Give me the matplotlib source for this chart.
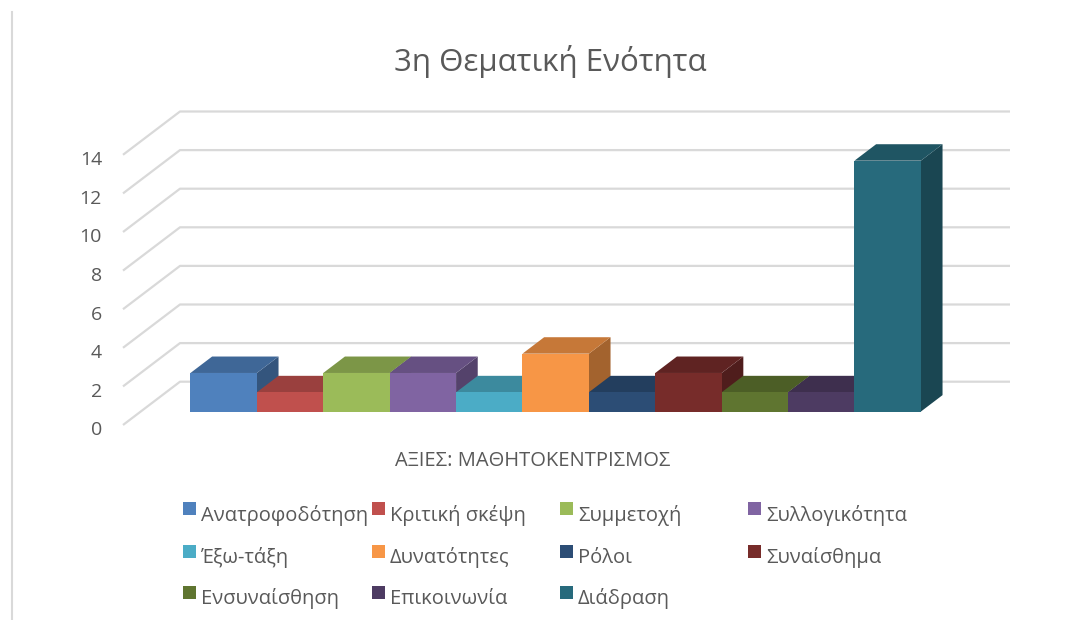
import matplotlib
matplotlib.use("Agg")
import matplotlib.pyplot as plt
from matplotlib.patches import Polygon, Rectangle
from matplotlib.lines import Line2D
from matplotlib import font_manager
from matplotlib.colors import to_rgb

# series of the single category "ΑΞΙΕΣ: ΜΑΘΗΤΟΚΕΝΤΡΙΣΜΟΣ"
labels = [
    "Ανατροφοδότηση", "Κριτική σκέψη", "Συμμετοχή", "Συλλογικότητα",
    "Έξω-τάξη", "Δυνατότητες", "Ρόλοι", "Συναίσθημα",
    "Ενσυναίσθηση", "Επικοινωνία", "Διάδραση",
]
values = [2, 1, 2, 2, 1, 3, 1, 2, 1, 1, 13]
colors = [
    "#4F81BD", "#C0504D", "#9BBB59", "#8064A2",
    "#4BACC6", "#F79646", "#2C4D75", "#772C2A",
    "#5F7530", "#4D3B62", "#276A7C",
]
yticks = [0, 2, 4, 6, 8, 10, 12, 14]
title = "3η Θεματική Ενότητα"
cat_title = "ΑΞΙΕΣ: ΜΑΘΗΤΟΚΕΝΤΡΙΣΜΟΣ"

# pick a font with Greek glyphs
installed = {f.name for f in font_manager.fontManager.ttflist}
family = [f for f in ["Open Sans", "Noto Sans"] if f in installed]
plt.rcParams["font.family"] = family + ["DejaVu Sans"]
TXT = "#595959"
GRID = "#D9D9D9"

W, H = 1080, 620
fig = plt.figure(figsize=(W / 100, H / 100), dpi=100)

# oblique 3D projection: one x unit = one bar width, one y unit = one value unit
PX_X, PX_Y = 66.4, 19.3          # pixels per unit
OX, OY = 123, 425                # pixel position of the front-left floor corner
DX, DY = 57 / PX_X, 43.3 / PX_Y  # full depth vector in data units
FLOOR_W = 12.5                   # floor width in bar widths
MARGIN = 0.75
D0, D1 = 0.31, 0.69              # depth slab occupied by the bars

ax = fig.add_axes([0, 0, 1, 1])
ax.set_xlim(-OX / PX_X, (W - OX) / PX_X)
ax.set_ylim((OY - H) / PX_Y, OY / PX_Y)
ax.axis("off")

# side wall diagonals + back wall gridlines
for v in yticks:
    ax.plot([0, DX, FLOOR_W + DX], [v, v + DY, v + DY],
            color=GRID, lw=1.6, zorder=1, solid_capstyle="butt")
    ax.text(-21 / PX_X, v - 0.28, str(v), ha="right", va="center",
            fontsize=14, color=TXT)


def shade(c, f):
    r, g, b = to_rgb(c)
    return (r * f, g * f, b * f)


bdx, bdy = (D1 - D0) * DX, (D1 - D0) * DY
for i, (v, c) in enumerate(zip(values, colors)):
    x0 = MARGIN + i + D0 * DX
    y0 = D0 * DY
    z = 2 + i * 3
    side = Polygon([(x0 + 1, y0), (x0 + 1, y0 + v),
                    (x0 + 1 + bdx, y0 + v + bdy), (x0 + 1 + bdx, y0 + bdy)],
                   closed=True, facecolor=shade(c, 0.66), edgecolor="none", zorder=z)
    top = Polygon([(x0, y0 + v), (x0 + 1, y0 + v),
                   (x0 + 1 + bdx, y0 + v + bdy), (x0 + bdx, y0 + v + bdy)],
                  closed=True, facecolor=shade(c, 0.8), edgecolor="none", zorder=z + 1)
    ax.add_patch(side)
    ax.add_patch(top)
    ax.bar(x0, v, width=1, bottom=y0, align="edge", color=c,
           edgecolor="none", zorder=z + 2)

# chart border on the left edge
fig.add_artist(Line2D([11.5 / W, 11.5 / W], [0, 1 - 12 / H], color=GRID, lw=1.5))

fig.text(550 / W, 1 - 62 / H, title, ha="center", va="center",
         fontsize=22.5, color=TXT)
fig.text(533 / W, 1 - 461 / H, cat_title, ha="center", va="center",
         fontsize=14.5, color=TXT)

# legend, four equal columns, row-major
col_x = [183, 372, 560, 748]
row_base = [520.5, 563, 604]
sq = 12.6
for k, (name, c) in enumerate(zip(labels, colors)):
    cx, by = col_x[k % 4], row_base[k // 4]
    fig.add_artist(Rectangle((cx / W, 1 - (by - 5.5) / H), sq / W, sq / H,
                             transform=fig.transFigure, facecolor=c, edgecolor="none"))
    fig.text((cx + 18) / W, 1 - by / H, name, ha="left", va="baseline",
             fontsize=14.5, color=TXT)

fig.savefig("out.png", dpi=100)
